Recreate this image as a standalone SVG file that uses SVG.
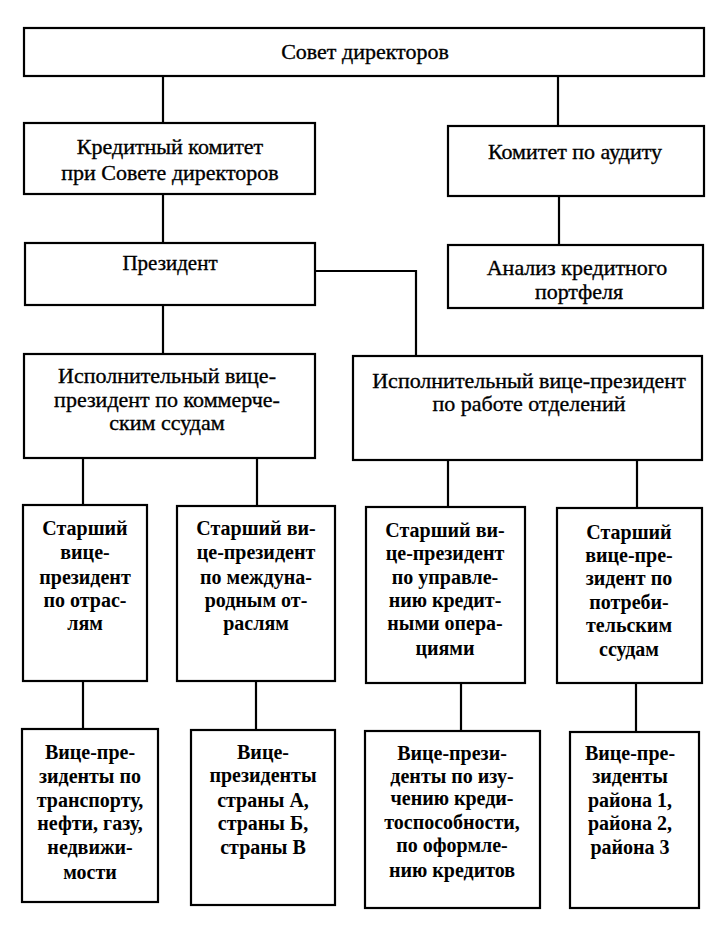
<svg xmlns="http://www.w3.org/2000/svg" width="720" height="930" viewBox="0 0 720 930">
<style>
.box{fill:#fff;stroke:#000;stroke-width:2.2}
.con{fill:none;stroke:#000;stroke-width:2.2}
.t{font-family:"Liberation Serif","Times New Roman",serif;font-size:22px;fill:#000;stroke:#000;stroke-width:0.35;text-anchor:middle}
.b{font-family:"Liberation Serif","Times New Roman",serif;font-size:20px;font-weight:bold;fill:#000;text-anchor:middle}
</style>
<rect width="720" height="930" fill="#fff"/>
<g id="connectors">
<path class="con" d="M163,76V123"/>
<path class="con" d="M558,76V126"/>
<path class="con" d="M163,194V243"/>
<path class="con" d="M559,196V245"/>
<path class="con" d="M163,305V354"/>
<path class="con" d="M315,271H416V356"/>
<path class="con" d="M83,458V505"/>
<path class="con" d="M257,458V506"/>
<path class="con" d="M448,460V507"/>
<path class="con" d="M637,460V508"/>
<path class="con" d="M83,681V729"/>
<path class="con" d="M256,681V730"/>
<path class="con" d="M461,683V731"/>
<path class="con" d="M636,683V732"/>
</g>
<g id="board">
<rect class="box" x="24" y="28" width="680" height="48"/>
<text class="t" x="365" y="59">Совет директоров</text>
</g>
<g id="credit-committee">
<rect class="box" x="24" y="123" width="291" height="71"/>
<text class="t" x="170" y="154">Кредитный комитет</text>
<text class="t" x="170" y="180">при Совете директоров</text>
</g>
<g id="audit-committee">
<rect class="box" x="448" y="126" width="256" height="70"/>
<text class="t" x="575" y="159">Комитет по аудиту</text>
</g>
<g id="president">
<rect class="box" x="25" y="243" width="290" height="62"/>
<text class="t" x="170" y="270" style="font-size:21px">Президент</text>
</g>
<g id="portfolio-analysis">
<rect class="box" x="448" y="245" width="255" height="63"/>
<text class="t" x="577" y="275">Анализ кредитного</text>
<text class="t" x="579" y="299">портфеля</text>
</g>
<g id="evp-commercial">
<rect class="box" x="24" y="354" width="291" height="104"/>
<text class="t" x="167" y="383">Исполнительный вице-</text>
<text class="t" x="167" y="407">президент по коммерче-</text>
<text class="t" x="167" y="430">ским ссудам</text>
</g>
<g id="evp-branches">
<rect class="box" x="353" y="356" width="349" height="104"/>
<text class="t" x="529" y="388">Исполнительный вице-президент</text>
<text class="t" x="529" y="411">по работе отделений</text>
</g>
<g id="svp-industries">
<rect class="box" x="23" y="505" width="124" height="176"/>
<text class="b" x="85" y="535">Старший</text>
<text class="b" x="85" y="559">вице-</text>
<text class="b" x="85" y="584">президент</text>
<text class="b" x="85" y="607">по отрас-</text>
<text class="b" x="85" y="630">лям</text>
</g>
<g id="svp-international">
<rect class="box" x="177" y="506" width="158" height="175"/>
<text class="b" x="256" y="535">Старший ви-</text>
<text class="b" x="256" y="559">це-президент</text>
<text class="b" x="256" y="584">по междуна-</text>
<text class="b" x="256" y="607">родным от-</text>
<text class="b" x="256" y="630">раслям</text>
</g>
<g id="svp-credit-ops">
<rect class="box" x="366" y="507" width="159" height="176"/>
<text class="b" x="445" y="537">Старший ви-</text>
<text class="b" x="445" y="560">це-президент</text>
<text class="b" x="445" y="584">по управле-</text>
<text class="b" x="445" y="607">нию кредит-</text>
<text class="b" x="445" y="630">ными опера-</text>
<text class="b" x="445" y="655">циями</text>
</g>
<g id="svp-consumer">
<rect class="box" x="557" y="508" width="145" height="175"/>
<text class="b" x="629" y="539">Старший</text>
<text class="b" x="629" y="562">вице-пре-</text>
<text class="b" x="629" y="585">зидент по</text>
<text class="b" x="629" y="609">потреби-</text>
<text class="b" x="629" y="632">тельским</text>
<text class="b" x="629" y="656">ссудам</text>
</g>
<g id="vp-transport">
<rect class="box" x="22" y="729" width="136" height="173"/>
<text class="b" x="90" y="759">Вице-пре-</text>
<text class="b" x="90" y="783">зиденты по</text>
<text class="b" x="90" y="807">транспорту,</text>
<text class="b" x="90" y="830">нефти, газу,</text>
<text class="b" x="90" y="854">недвижи-</text>
<text class="b" x="90" y="879">мости</text>
</g>
<g id="vp-countries">
<rect class="box" x="191" y="730" width="144" height="175"/>
<text class="b" x="263" y="759">Вице-</text>
<text class="b" x="263" y="782">президенты</text>
<text class="b" x="263" y="807">страны А,</text>
<text class="b" x="263" y="830">страны Б,</text>
<text class="b" x="263" y="854">страны В</text>
</g>
<g id="vp-credit-analysis">
<rect class="box" x="365" y="731" width="175" height="177"/>
<text class="b" x="452" y="760">Вице-прези-</text>
<text class="b" x="452" y="783">денты по изу-</text>
<text class="b" x="452" y="805">чению креди-</text>
<text class="b" x="452" y="829">тоспособности,</text>
<text class="b" x="452" y="852">по оформле-</text>
<text class="b" x="452" y="877">нию кредитов</text>
</g>
<g id="vp-regions">
<rect class="box" x="570" y="732" width="129" height="176"/>
<text class="b" x="630" y="760">Вице-пре-</text>
<text class="b" x="630" y="783">зиденты</text>
<text class="b" x="630" y="807">района 1,</text>
<text class="b" x="630" y="830">района 2,</text>
<text class="b" x="630" y="854">района 3</text>
</g>
</svg>
